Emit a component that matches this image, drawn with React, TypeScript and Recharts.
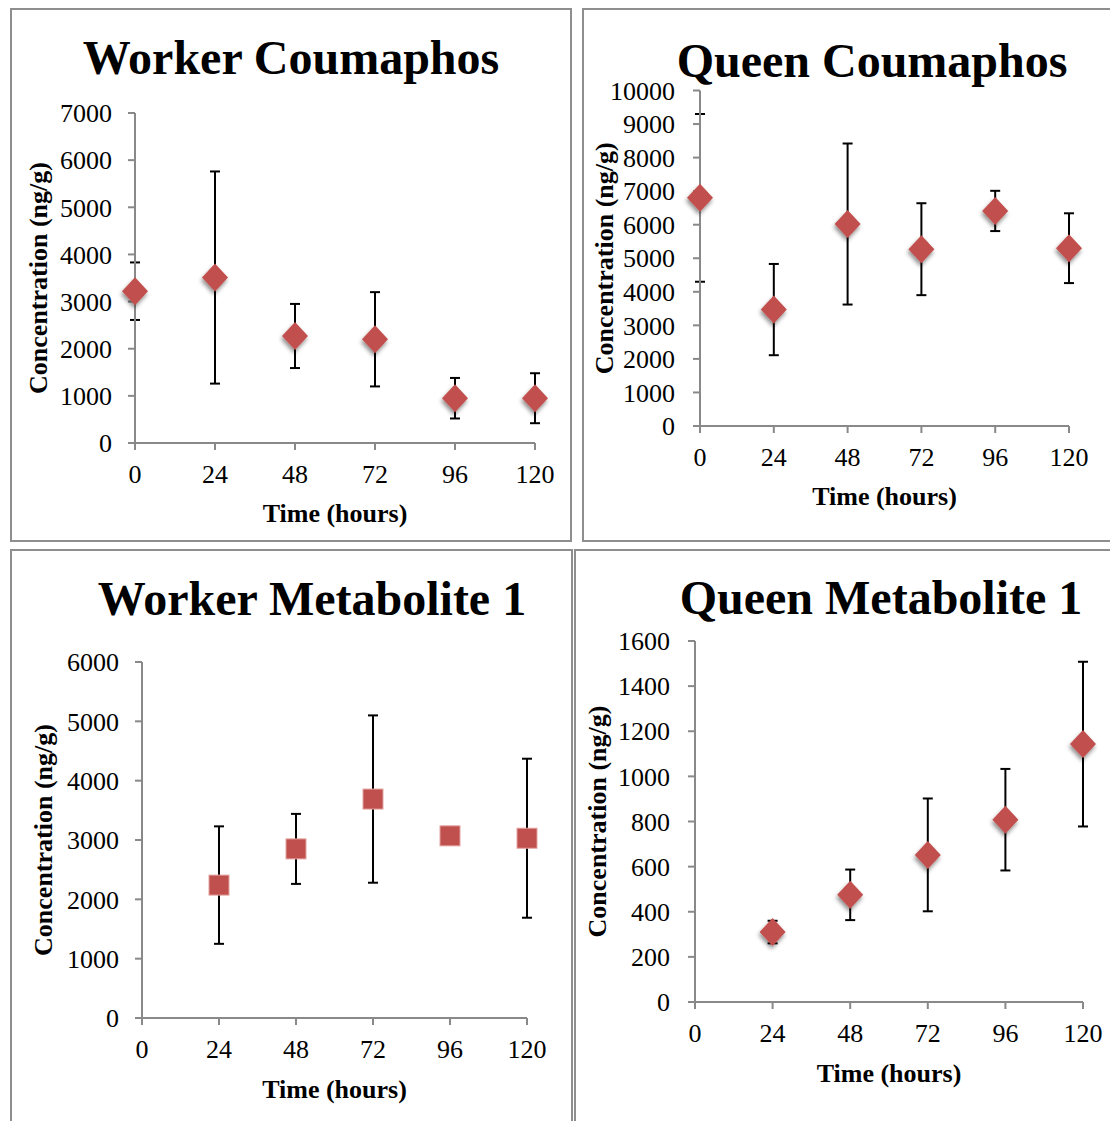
import React from 'react';
import { ScatterChart, Scatter, XAxis, YAxis, ErrorBar } from 'recharts';

// ---------- data ----------
const xTicks = [0, 24, 48, 72, 96, 120];

const coumaphosHours = [0, 24, 48, 72, 96, 120];
const workerCoumaphosMean = [3220, 3510, 2270, 2200, 950, 950];
const workerCoumaphosErr = [610, 2250, 680, 1000, 430, 530];
const workerCoumaphosTicks = [0, 1000, 2000, 3000, 4000, 5000, 6000, 7000];

const queenCoumaphosMean = [6800, 3470, 6020, 5270, 6410, 5300];
const queenCoumaphosErr = [2500, 1360, 2400, 1370, 600, 1040];
const queenCoumaphosTicks = [0, 1000, 2000, 3000, 4000, 5000, 6000, 7000, 8000, 9000, 10000];

const metaboliteHours = [24, 48, 72, 96, 120];
const workerMetaboliteMean = [2240, 2850, 3690, 3070, 3030];
const workerMetaboliteErr = [990, 590, 1410, 0, 1340];
const workerMetaboliteTicks = [0, 1000, 2000, 3000, 4000, 5000, 6000];

const queenMetaboliteMean = [310, 475, 652, 808, 1143];
const queenMetaboliteErr = [50, 112, 250, 225, 365];
const queenMetaboliteTicks = [0, 200, 400, 600, 800, 1000, 1200, 1400, 1600];

// ---------- styles ----------
const FONT = "'Liberation Serif', 'Times New Roman', Times, serif";
const RED = '#C0504D';
const AXIS = '#898989';
const BORDER = '#8E8E8E';

function Diamond(props: any) {
  const { cx, cy } = props;
  if (cx == null || cy == null) return null;
  const r = 14;
  return (
    <path
      d={`M${cx},${cy - r} L${cx + r - 1},${cy} L${cx},${cy + r} L${cx - r + 1},${cy} Z`}
      fill={RED}
      filter="url(#markerShadow)"
    />
  );
}

function Square(props: any) {
  const { cx, cy } = props;
  if (cx == null || cy == null) return null;
  const s = 10;
  return <rect x={cx - s} y={cy - s} width={2 * s} height={2 * s} fill={RED} stroke="#E3A3A1" strokeWidth={1} />;
}

function Nothing() {
  return <g />;
}

type Cfg = {
  title: string;
  hours: number[];
  mean: number[];
  err: number[];
  yTicks: number[];
  shape: (p: any) => any;
  box: { l: number; t: number; w: number; h: number };
  plot: { x0: number; y0: number; x1: number; y1: number };
  border: { l: number; t: number; w: number; h: number };
  titlePos: { x: number; y: number };
  yTitleX: number;
  xTitleDy: number;
  tickGap: number;
};

const X_AXIS_H = 80;

function Panel({ cfg }: { cfg: Cfg }) {
  const data = cfg.hours.map((h, i) => ({ t: h, v: cfg.mean[i], e: cfg.err[i] }));
  const atZero = data.filter((d) => d.t === 0);
  const rest = data.filter((d) => d.t !== 0);
  const { box, plot } = cfg;
  const yAxisW = plot.x0 - box.l;
  const margin = {
    top: plot.y0 - box.t,
    right: box.l + box.w - plot.x1,
    left: 0,
    bottom: box.t + box.h - plot.y1 - X_AXIS_H,
  };
  const yMax = cfg.yTicks[cfg.yTicks.length - 1];
  const tickStyle = { fill: '#000', fontSize: 26, fontFamily: FONT };

  const yTitle = (p: any) => {
    const vb = p.viewBox;
    const x = vb.x + cfg.yTitleX;
    const y = vb.y + vb.height / 2;
    return (
      <text
        x={x}
        y={y}
        transform={`rotate(-90 ${x} ${y})`}
        textAnchor="middle"
        dominantBaseline="central"
        fontFamily={FONT}
        fontWeight="bold"
        fontSize={26}
        fill="#000"
      >
        Concentration (ng/g)
      </text>
    );
  };
  const xTitle = (p: any) => {
    const vb = p.viewBox;
    const x = vb.x + vb.width / 2;
    const y = vb.y + cfg.xTitleDy;
    return (
      <text x={x} y={y} textAnchor="middle" dominantBaseline="central" fontFamily={FONT} fontWeight="bold" fontSize={26} fill="#000">
        Time (hours)
      </text>
    );
  };

  return (
    <>
      <div
        style={{
          position: 'absolute',
          left: cfg.border.l,
          top: cfg.border.t,
          width: cfg.border.w,
          height: cfg.border.h,
          border: `2px solid ${BORDER}`,
          boxSizing: 'border-box',
        }}
      />
      <div style={{ position: 'absolute', left: box.l, top: box.t, width: box.w, height: box.h }}>
        <ScatterChart width={box.w} height={box.h} margin={margin}>
          <XAxis
            xAxisId="main"
            dataKey="t"
            type="number"
            domain={[0, 120]}
            ticks={xTicks}
            interval={0}
            height={X_AXIS_H}
            tick={tickStyle}
            tickSize={7}
            tickMargin={15}
            axisLine={{ stroke: AXIS, strokeWidth: 2 }}
            tickLine={{ stroke: AXIS, strokeWidth: 2 }}
            label={xTitle}
          />
          <XAxis xAxisId="clip" dataKey="t" type="number" domain={[0, 120]} hide height={0} allowDataOverflow />
          <YAxis
            yAxisId="main"
            dataKey="v"
            type="number"
            domain={[0, yMax]}
            ticks={cfg.yTicks}
            interval={0}
            width={yAxisW}
            tick={tickStyle}
            tickSize={7}
            tickMargin={cfg.tickGap}
            axisLine={{ stroke: AXIS, strokeWidth: 2 }}
            tickLine={{ stroke: AXIS, strokeWidth: 2 }}
            label={yTitle}
          />
          {atZero.length > 0 && (
            <Scatter data={atZero} xAxisId="clip" yAxisId="main" shape={Nothing} isAnimationActive={false}>
              <ErrorBar dataKey="e" direction="y" width={5} stroke="#000" strokeWidth={2} />
            </Scatter>
          )}
          <Scatter data={rest} xAxisId="main" yAxisId="main" shape={Nothing} isAnimationActive={false}>
            <ErrorBar dataKey="e" direction="y" width={5} stroke="#000" strokeWidth={2} />
          </Scatter>
          <Scatter data={data} xAxisId="main" yAxisId="main" shape={cfg.shape} isAnimationActive={false} />
        </ScatterChart>
        <svg
          width={box.w}
          height={100}
          style={{ position: 'absolute', left: 0, top: 0, overflow: 'visible', pointerEvents: 'none' }}
        >
          <text
            x={cfg.titlePos.x}
            y={cfg.titlePos.y}
            textAnchor="middle"
            fontFamily={FONT}
            fontWeight="bold"
            fontSize={48}
            fill="#000"
          >
            {cfg.title}
          </text>
        </svg>
      </div>
    </>
  );
}

const panels: Cfg[] = [
  {
    title: 'Worker Coumaphos',
    hours: coumaphosHours,
    mean: workerCoumaphosMean,
    err: workerCoumaphosErr,
    yTicks: workerCoumaphosTicks,
    shape: Diamond,
    box: { l: 11, t: 9, w: 560, h: 532 },
    plot: { x0: 135, y0: 113, x1: 535, y1: 443 },
    border: { l: 10, t: 8, w: 562, h: 534 },
    titlePos: { x: 280, y: 65 },
    yTitleX: 27,
    xTitleDy: 70,
    tickGap: 16,
  },
  {
    title: 'Queen Coumaphos',
    hours: coumaphosHours,
    mean: queenCoumaphosMean,
    err: queenCoumaphosErr,
    yTicks: queenCoumaphosTicks,
    shape: Diamond,
    box: { l: 583, t: 9, w: 540, h: 532 },
    plot: { x0: 700, y0: 90.5, x1: 1069, y1: 426 },
    border: { l: 582, t: 8, w: 600, h: 534 },
    titlePos: { x: 289, y: 68 },
    yTitleX: 21,
    xTitleDy: 70,
    tickGap: 18,
  },
  {
    title: 'Worker Metabolite 1',
    hours: metaboliteHours,
    mean: workerMetaboliteMean,
    err: workerMetaboliteErr,
    yTicks: workerMetaboliteTicks,
    shape: Square,
    box: { l: 11, t: 549, w: 560, h: 580 },
    plot: { x0: 142, y0: 662, x1: 527, y1: 1018 },
    border: { l: 10, t: 549, w: 563, h: 600 },
    titlePos: { x: 301, y: 66 },
    yTitleX: 32,
    xTitleDy: 71,
    tickGap: 16,
  },
  {
    title: 'Queen Metabolite 1',
    hours: metaboliteHours,
    mean: queenMetaboliteMean,
    err: queenMetaboliteErr,
    yTicks: queenMetaboliteTicks,
    shape: Diamond,
    box: { l: 575, t: 549, w: 545, h: 580 },
    plot: { x0: 695, y0: 641, x1: 1083, y1: 1002 },
    border: { l: 574, t: 549, w: 600, h: 600 },
    titlePos: { x: 306, y: 65 },
    yTitleX: 22,
    xTitleDy: 71,
    tickGap: 18,
  },
];

export default function App() {
  return (
    <div
      style={{
        position: 'absolute',
        left: 0,
        top: 0,
        width: 1110,
        height: 1121,
        overflow: 'hidden',
        background: '#fff',
      }}
    >
      <style>{`.recharts-cartesian-axis-tick-value { font-family: ${FONT}; }`}</style>
      <svg width={0} height={0} style={{ position: 'absolute' }}>
        <defs>
          <filter id="markerShadow" x="-50%" y="-50%" width="200%" height="200%">
            <feDropShadow dx={-1} dy={3} stdDeviation={2.2} floodColor="#000" floodOpacity={0.45} />
          </filter>
        </defs>
      </svg>
      {panels.map((p) => (
        <Panel key={p.title} cfg={p} />
      ))}
    </div>
  );
}
